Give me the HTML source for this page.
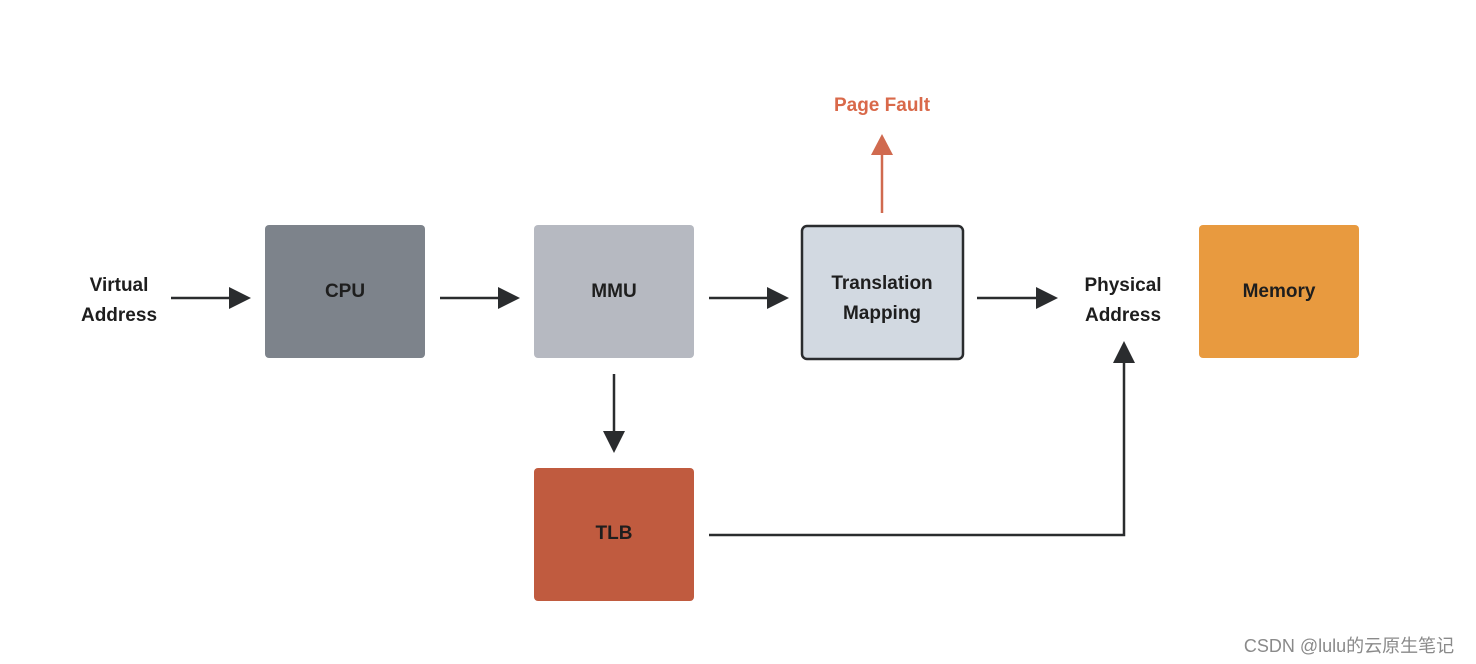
<!DOCTYPE html>
<html><head><meta charset="utf-8"><style>
html,body{margin:0;padding:0;background:#fff;}
svg{display:block;}
text{font-family:"Liberation Sans",sans-serif;font-weight:bold;font-size:19px;fill:#1e1e1e;text-anchor:middle;}
</style></head><body>
<svg width="1476" height="664" viewBox="0 0 1476 664" xmlns="http://www.w3.org/2000/svg">
<rect width="1476" height="664" fill="#fff"/>
<!-- boxes -->
<rect x="265" y="225" width="160" height="133" rx="4" fill="#7d838b"/>
<rect x="534" y="225" width="160" height="133" rx="4" fill="#b6b9c1"/>
<rect x="802" y="226" width="161" height="133" rx="5" fill="#d2d9e1" stroke="#2a2c2e" stroke-width="2.5"/>
<rect x="1199" y="225" width="160" height="133" rx="4" fill="#e89a3f"/>
<rect x="534" y="468" width="160" height="133" rx="4" fill="#c05b3f"/>
<!-- labels -->
<text x="119" y="291">Virtual</text>
<text x="119" y="321">Address</text>
<text x="345" y="297">CPU</text>
<text x="614" y="297">MMU</text>
<text x="882" y="289">Translation</text>
<text x="882" y="319">Mapping</text>
<text x="1123" y="291">Physical</text>
<text x="1123" y="321">Address</text>
<text x="1279" y="297">Memory</text>
<text x="614" y="539">TLB</text>
<text x="882" y="111" style="fill:#d9694a">Page Fault</text>
<!-- arrows -->
<g stroke="#2a2c2e" stroke-width="2.5" fill="none">
<line x1="171" y1="298" x2="232" y2="298"/>
<line x1="440" y1="298" x2="501" y2="298"/>
<line x1="709" y1="298" x2="770" y2="298"/>
<line x1="977" y1="298" x2="1039" y2="298"/>
<line x1="614" y1="374" x2="614" y2="434"/>
<polyline points="709,535 1124,535 1124,360"/>
</g>
<g fill="#2a2c2e">
<polygon points="229,287 251,298 229,309"/>
<polygon points="498,287 520,298 498,309"/>
<polygon points="767,287 789,298 767,309"/>
<polygon points="1036,287 1058,298 1036,309"/>
<polygon points="603,431 614,453 625,431"/>
<polygon points="1113,363 1124,341 1135,363"/>
</g>
<line x1="882" y1="213" x2="882" y2="152" stroke="#d06a4f" stroke-width="2.5"/>
<polygon points="871,155 882,134 893,155" fill="#d06a4f"/>
<text x="1349" y="652" style="font-weight:normal;font-size:18px;fill:#8a8a8a;font-family:'Liberation Sans','Noto Sans CJK SC',sans-serif">CSDN @lulu的云原生笔记</text>
</svg>
</body></html>
